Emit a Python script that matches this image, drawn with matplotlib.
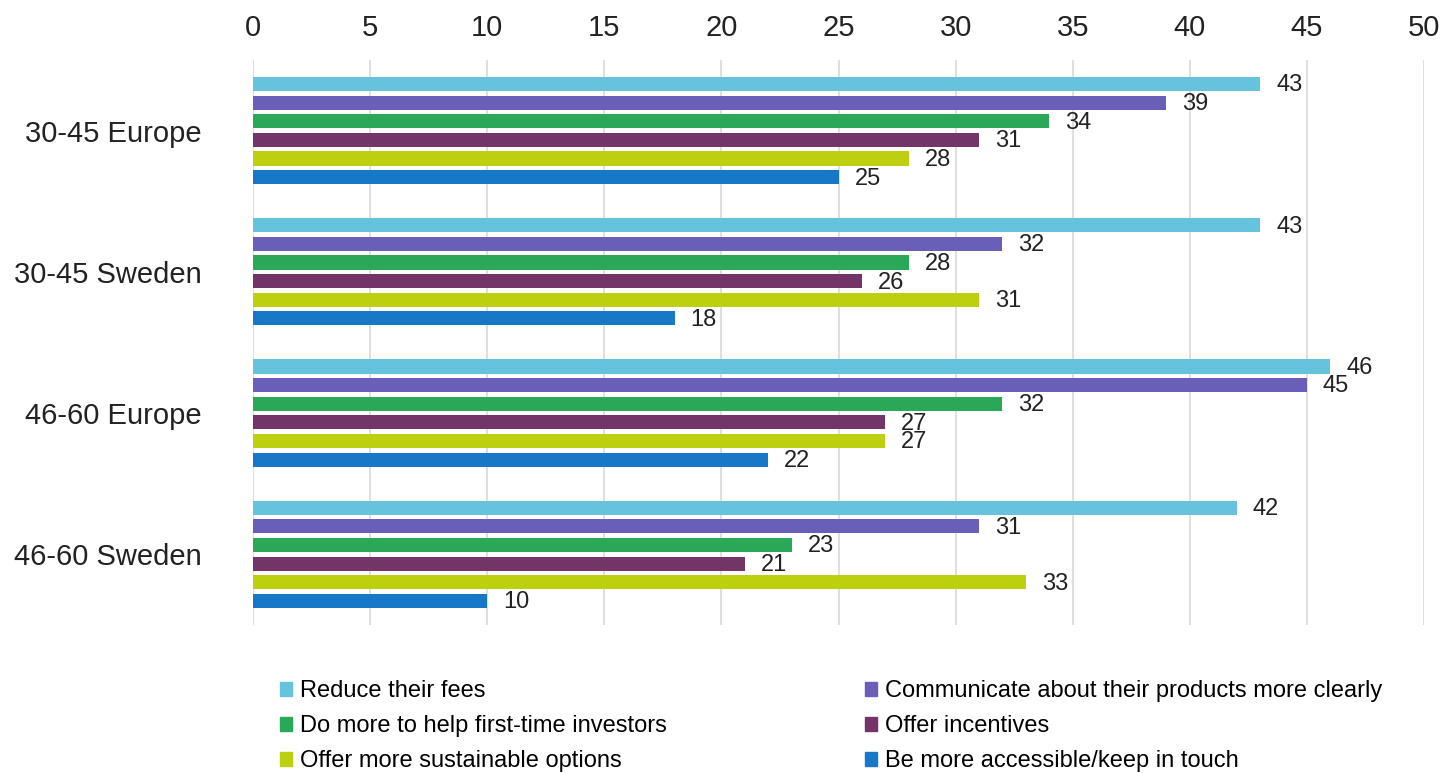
import matplotlib.pyplot as plt
import matplotlib as mpl
from matplotlib.patches import Patch
import numpy as np

mpl.rcParams['font.family'] = ['Liberation Sans', 'DejaVu Sans']

# Datos por grupo de edad / región
grupos = ['30-45 Europe', '30-45 Sweden', '46-60 Europe', '46-60 Sweden']
series = [
    'Reduce their fees',
    'Communicate about their products more clearly',
    'Do more to help first-time investors',
    'Offer incentives',
    'Offer more sustainable options',
    'Be more accessible/keep in touch',
]
reduce_fees = [43, 43, 46, 42]
communicate = [39, 32, 45, 31]
first_time = [34, 28, 32, 23]
incentives = [31, 26, 27, 21]
sustainable = [28, 31, 27, 33]
accessible = [25, 18, 22, 10]
valores = [reduce_fees, communicate, first_time, incentives, sustainable, accessible]

colores = ['#65C3DD', '#6A5FB8', '#2AA857', '#733468', '#BDD00F', '#1778C8']

fig = plt.figure(figsize=(14.42, 7.73), dpi=100)
ax = fig.add_axes([0.1755, 0.1915, 0.812, 0.731])

paso = 0.132
alto = 0.1
y = np.arange(len(grupos))
for i, (vals, col) in enumerate(zip(valores, colores)):
    pos = y + (i - 2.5) * paso
    ax.barh(pos, vals, height=alto, color=col, zorder=3)
    for p, v in zip(pos, vals):
        ax.annotate(str(v), (v, p), xytext=(11.5, -1), textcoords='offset points',
                    va='center', ha='left', fontsize=17, color='#222222')

ax.set_ylim(3.5, -0.5)
ax.set_xlim(0, 50)
ax.set_xticks(range(0, 51, 5))
ax.set_yticks(y)
ax.set_yticklabels(grupos)
ax.xaxis.tick_top()
ax.tick_params(axis='x', length=0, pad=13, labelsize=21, colors='#222222')
ax.tick_params(axis='y', length=0, pad=37, labelsize=21, colors='#222222')
ax.grid(axis='x', color='#d9d9d9', linewidth=1.2, zorder=0)
ax.grid(axis='y', visible=False)
for s in ax.spines.values():
    s.set_visible(False)

# Leyenda en dos columnas, ordenada por filas
orden = [0, 2, 4, 1, 3, 5]
handles = [Patch(color=colores[k]) for k in orden]
labels = [series[k] for k in orden]
fig.legend(handles, labels, ncol=2, loc='upper left', bbox_to_anchor=(0.194, 0.12),
           frameon=False, fontsize=17, handlelength=0.5, handleheight=0.5,
           handletextpad=0.35, labelspacing=0.55, columnspacing=8.4,
           borderaxespad=0, borderpad=0)

fig.savefig('out.png', dpi=100)
